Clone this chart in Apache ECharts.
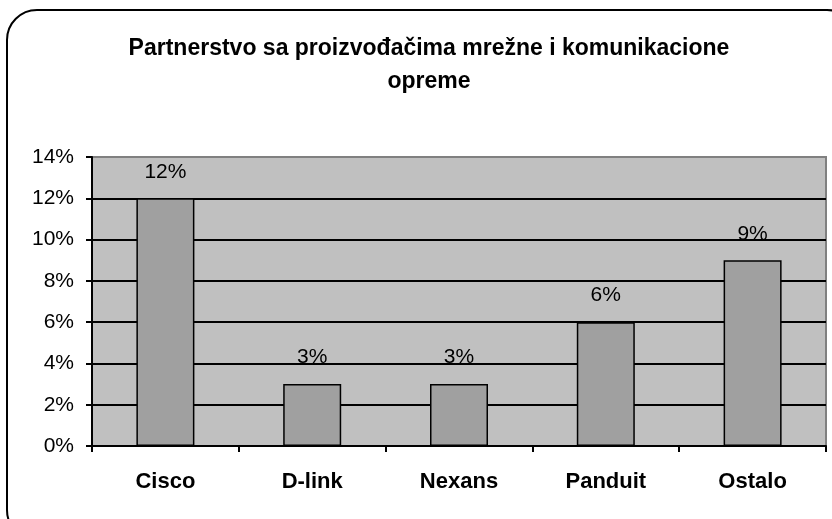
<!DOCTYPE html>
<html>
<head>
<meta charset="utf-8">
<script src="https://cdn.jsdelivr.net/npm/echarts@6/dist/echarts.min.js"></script>
<style>
  html, body { margin: 0; padding: 0; background: #fff; }
  #chart { width: 832px; height: 519px; }
</style>
</head>
<body>
<div id="chart"></div>
<script>
  var categories = ['Cisco', 'D-link', 'Nexans', 'Panduit', 'Ostalo'];
  var shares = [12, 3, 3, 6, 9];

  var chart = echarts.init(document.getElementById('chart'));
  chart.setOption({
    animation: false,
    textStyle: { fontFamily: 'Liberation Sans, Arial, sans-serif' },
    title: {
      text: 'Partnerstvo sa proizvođačima mrežne i komunikacione\nopreme',
      left: 424,
      textAlign: 'center',
      top: 27,
      textStyle: { fontSize: 23, fontWeight: 'bold', color: '#000', lineHeight: 33 }
    },
    graphic: [{
      type: 'rect',
      z: -1,
      shape: { x: 7, y: 10, width: 850, height: 530, r: 30 },
      style: { fill: 'none', stroke: '#000', lineWidth: 2 }
    }],
    grid: {
      left: 92, right: 6, top: 157, bottom: 73,
      show: true,
      backgroundColor: '#c0c0c0',
      borderColor: '#808080',
      borderWidth: 2
    },
    xAxis: {
      type: 'category',
      data: categories,
      axisLine: { lineStyle: { color: '#000', width: 2 } },
      axisTick: { show: true, length: 6, lineStyle: { color: '#000', width: 2 } },
      axisLabel: { fontSize: 22, fontWeight: 'bold', color: '#000', margin: 25 }
    },
    yAxis: {
      type: 'value',
      min: 0, max: 14, interval: 2,
      axisLine: { show: true, lineStyle: { color: '#000', width: 2 } },
      axisTick: { show: true, length: 6, lineStyle: { color: '#000', width: 2 } },
      axisLabel: { formatter: '{value}%', fontSize: 21, color: '#000', margin: 18 },
      splitLine: { lineStyle: { color: ['#000', '#000', '#000', '#000', '#000', '#000', '#000', '#808080'], width: 2 } }
    },
    series: [{
      type: 'bar',
      data: shares,
      barWidth: 58,
      itemStyle: { color: '#a0a0a0', borderColor: '#000', borderWidth: 1.5 },
      label: {
        show: true, position: 'top', distance: 16,
        formatter: '{c}%', fontSize: 21, color: '#000'
      }
    }]
  });
</script>
</body>
</html>
